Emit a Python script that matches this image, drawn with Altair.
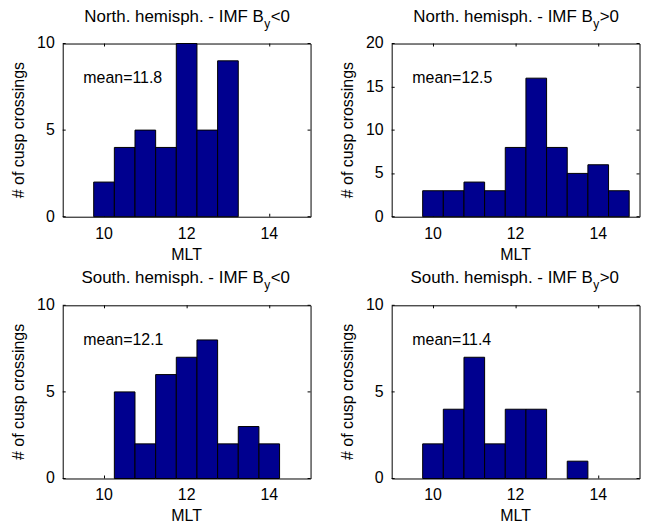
import altair as alt
import pandas as pd

FONT = "Liberation Sans"
BAR_COLOR = "#00008F"
W, H = 249, 174

BIN_WIDTH = 0.5
X_DOMAIN = [9, 15]
X_TICKS = [10, 12, 14]

# bin left edges and counts for each panel
n_neg_starts = [9.75, 10.25, 10.75, 11.25, 11.75, 12.25, 12.75]
n_neg_counts = [2, 4, 5, 4, 10, 5, 9]

n_pos_starts = [9.75, 10.25, 10.75, 11.25, 11.75, 12.25, 12.75, 13.25, 13.75, 14.25]
n_pos_counts = [3, 3, 4, 3, 8, 16, 8, 5, 6, 3]

s_neg_starts = [10.25, 10.75, 11.25, 11.75, 12.25, 12.75, 13.25, 13.75]
s_neg_counts = [5, 2, 6, 7, 8, 2, 3, 2]

s_pos_starts = [9.75, 10.25, 10.75, 11.25, 11.75, 12.25, 13.25]
s_pos_counts = [2, 4, 7, 2, 4, 4, 1]

title_main = ["North. hemisph. - IMF B", "North. hemisph. - IMF B",
              "South. hemisph. - IMF B", "South. hemisph. - IMF B"]
title_sub = ["y", "y", "y", "y"]
title_rel = ["<0", ">0", "<0", ">0"]
mean_text = ["mean=11.8", "mean=12.5", "mean=12.1", "mean=11.4"]
mean_x = [9.5, 9.5, 9.5, 9.5]
mean_y = [8, 16, 8, 8]
y_max = [10, 20, 10, 10]
y_ticks = [[0, 5, 10], [0, 5, 10, 15, 20], [0, 5, 10], [0, 5, 10]]

starts_all = [n_neg_starts, n_pos_starts, s_neg_starts, s_pos_starts]
counts_all = [n_neg_counts, n_pos_counts, s_neg_counts, s_pos_counts]

TITLE_SIZE = 17
JUNCTION = 202  # x of the end of "B" within panel


def panel(i):
    df = pd.DataFrame({
        "start": starts_all[i],
        "end": [s + BIN_WIDTH for s in starts_all[i]],
        "count": counts_all[i],
    })
    xs = alt.Scale(domain=X_DOMAIN, nice=False, zero=False)
    ys = alt.Scale(domain=[0, y_max[i]], nice=False)
    common_axis = dict(domain=False, ticks=True, tickSize=3, offset=-3,
                       tickColor="black", grid=False, translate=0,
                       labelFont=FONT, labelFontSize=16, labelColor="black",
                       titleFont=FONT, titleFontSize=16, titleColor="black",
                       titleFontWeight="normal")
    bars = alt.Chart(df).mark_bar(color=BAR_COLOR, stroke="black", strokeWidth=1).encode(
        x=alt.X("start:Q", scale=xs,
                axis=alt.Axis(orient="bottom", values=X_TICKS, title="MLT",
                              labelPadding=9, titlePadding=5, **common_axis)),
        x2="end:Q",
        y=alt.Y("count:Q", scale=ys,
                axis=alt.Axis(orient="left", values=y_ticks[i], title="# of cusp crossings",
                              labelPadding=8, titlePadding=10, **common_axis)),
        y2=alt.datum(0),
    )
    frame = alt.Chart(df).mark_bar(opacity=0).encode(
        x=alt.X("start:Q", scale=xs,
                axis=alt.Axis(orient="top", values=X_TICKS, labels=False, title="",
                              **common_axis)),
        x2="end:Q",
        y=alt.Y("count:Q", scale=ys,
                axis=alt.Axis(orient="right", values=y_ticks[i], labels=False, title="",
                              **common_axis)),
        y2=alt.datum(0),
    )
    mdf = pd.DataFrame({"x": [mean_x[i]], "y": [mean_y[i]], "t": [mean_text[i]]})
    mean = alt.Chart(mdf).mark_text(align="left", baseline="middle", font=FONT,
                                    fontSize=16, color="black").encode(
        x=alt.X("x:Q", scale=xs, axis=None),
        y=alt.Y("y:Q", scale=ys, axis=None),
        text="t:N",
    )
    tdf = pd.DataFrame({"a": [title_main[i]], "b": [title_sub[i]], "c": [title_rel[i]]})
    t1 = alt.Chart(tdf).mark_text(align="right", baseline="alphabetic", font=FONT,
                                  fontSize=TITLE_SIZE, color="black").encode(
        x=alt.value(JUNCTION), y=alt.value(-22), text="a:N")
    t2 = alt.Chart(tdf).mark_text(align="left", baseline="alphabetic", font=FONT,
                                  fontSize=12, color="black").encode(
        x=alt.value(JUNCTION + 0.5), y=alt.value(-16), text="b:N")
    t3 = alt.Chart(tdf).mark_text(align="left", baseline="alphabetic", font=FONT,
                                  fontSize=TITLE_SIZE, color="black").encode(
        x=alt.value(JUNCTION + 7), y=alt.value(-22), text="c:N")
    return alt.layer(bars, frame, mean, t1, t2, t3).resolve_scale(
        x="independent", y="independent").properties(width=W, height=H)


row1 = alt.hconcat(panel(0), panel(1), spacing=27.5)
row2 = alt.hconcat(panel(2), panel(3), spacing=27.5)
chart = alt.vconcat(row1, row2, spacing=5).properties(
    padding={"left": 10, "top": 5.5, "right": 5, "bottom": 0},
    background="white",
).configure_view(stroke="black", strokeWidth=1)

chart.save("out.html", embed_options={"renderer": "svg", "actions": False})
